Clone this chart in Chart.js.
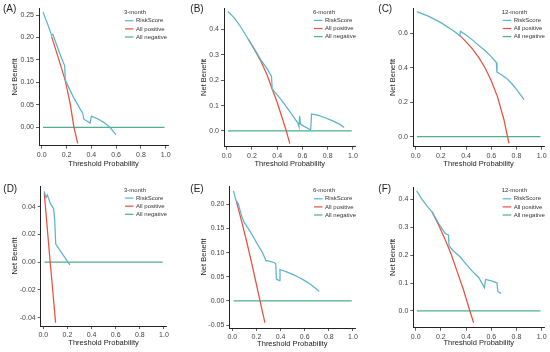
<!DOCTYPE html>
<html>
<head>
<meta charset="utf-8">
<script src="https://cdn.jsdelivr.net/npm/chart.js@4.4.1/dist/chart.umd.min.js"></script>
<style>
  body { margin: 0; background: #fff; }
  #wrap { position: relative; width: 550px; height: 352px; overflow: hidden; background: #fff; }
  #wrap canvas { position: absolute; }
</style>
</head>
<body>
<div id="wrap">
  <canvas id="cA" width="185" height="176" style="left:0;top:0"></canvas>
  <canvas id="cB" width="185" height="176" style="left:183px;top:0"></canvas>
  <canvas id="cC" width="185" height="176" style="left:365px;top:0"></canvas>
  <canvas id="cD" width="185" height="176" style="left:0;top:176px"></canvas>
  <canvas id="cE" width="185" height="176" style="left:183px;top:176px"></canvas>
  <canvas id="cF" width="185" height="176" style="left:365px;top:176px"></canvas>
</div>
<script>
// Data: [threshold, net benefit]

const xTicks = [0, 0.2, 0.4, 0.6, 0.8, 1.0];

// (A) 3-month
const riskA = [[0.01,0.257],[0.05,0.228],[0.08,0.204],[0.09,0.207],[0.13,0.176],[0.175,0.143],[0.185,0.138],[0.19,0.105],[0.25,0.07],[0.32,0.036],[0.33,0.032],[0.34,0.018],[0.37,0.013],[0.39,0.009],[0.40,0.025],[0.45,0.019],[0.50,0.011],[0.55,0.0],[0.60,-0.017]];
const posA = [[0.08,0.202],[0.13,0.158],[0.19,0.104],[0.23,0.052],[0.26,0.0],[0.29,-0.036]];
const negA = [[0.01,0],[0.99,0]];
const yTicksA = [0, 0.05, 0.10, 0.15, 0.20, 0.25];

// (B) 6-month
const riskB = [[0.01,0.47],[0.06,0.445],[0.11,0.41],[0.17,0.362],[0.22,0.322],[0.27,0.28],[0.32,0.245],[0.355,0.215],[0.36,0.165],[0.42,0.13],[0.47,0.097],[0.52,0.062],[0.565,0.03],[0.572,0.018],[0.578,0.06],[0.583,0.028],[0.60,0.022],[0.665,0.004],[0.672,0.067],[0.72,0.062],[0.78,0.052],[0.84,0.04],[0.90,0.025],[0.93,0.014]];
const posB = [[0.17,0.362],[0.22,0.32],[0.27,0.275],[0.32,0.22],[0.36,0.165],[0.40,0.112],[0.44,0.05],[0.47,0.003],[0.50,-0.05]];
const negB = [[0.01,0],[0.99,0]];
const yTicksB = [0, 0.1, 0.2, 0.3, 0.4];

// (C) 12-month
const riskC = [[0.01,0.726],[0.1,0.70],[0.2,0.662],[0.3,0.615],[0.35,0.586],[0.355,0.612],[0.40,0.59],[0.45,0.562],[0.50,0.53],[0.55,0.50],[0.60,0.465],[0.64,0.43],[0.645,0.375],[0.68,0.36],[0.72,0.34],[0.76,0.31],[0.80,0.275],[0.83,0.245],[0.86,0.215]];
const posC = [[0.35,0.588],[0.40,0.55],[0.45,0.51],[0.50,0.46],[0.55,0.40],[0.60,0.325],[0.65,0.23],[0.70,0.10],[0.74,-0.038]];
const negC = [[0.01,0],[0.99,0]];
const yTicksC = [0, 0.2, 0.4, 0.6];

// (D) 3-month
const riskD = [[0.008,0.051],[0.022,0.0465],[0.033,0.0485],[0.06,0.042],[0.085,0.0385],[0.094,0.031],[0.103,0.013],[0.22,-0.002]];
const posD = [[0.008,0.0499],[0.03,0.0275],[0.055,0.002],[0.08,-0.022],[0.102,-0.0437]];
const negD = [[0.01,0],[0.99,0]];
const yTicksD = [-0.04, -0.02, 0, 0.02, 0.04];

// (E) 6-month
const riskE = [[0.01,0.228],[0.03,0.208],[0.04,0.205],[0.05,0.2],[0.08,0.174],[0.10,0.162],[0.15,0.143],[0.20,0.121],[0.25,0.1],[0.28,0.083],[0.29,0.0835],[0.35,0.079],[0.36,0.077],[0.365,0.045],[0.39,0.042],[0.395,0.065],[0.45,0.06],[0.50,0.055],[0.55,0.049],[0.60,0.042],[0.65,0.034],[0.72,0.02]];
const posE = [[0.035,0.205],[0.08,0.162],[0.12,0.122],[0.16,0.079],[0.20,0.034],[0.23,0.0],[0.27,-0.045]];
const negE = [[0.01,0],[0.99,0]];
const yTicksE = [-0.05, 0, 0.05, 0.10, 0.15, 0.20];

// (F) 12-month
const riskF = [[0.008,0.43],[0.05,0.4],[0.1,0.37],[0.13,0.355],[0.18,0.315],[0.23,0.28],[0.245,0.275],[0.26,0.272],[0.265,0.233],[0.3,0.215],[0.35,0.195],[0.4,0.168],[0.45,0.142],[0.5,0.12],[0.545,0.084],[0.555,0.113],[0.6,0.108],[0.645,0.101],[0.652,0.07],[0.677,0.063]];
const posF = [[0.13,0.355],[0.18,0.31],[0.23,0.26],[0.28,0.205],[0.33,0.14],[0.38,0.075],[0.43,0.0],[0.46,-0.042]];
const negF = [[0.01,0],[0.99,0]];
const yTicksF = [0, 0.1, 0.2, 0.3, 0.4];

const seriesNames = ['RiskScore', 'All positive', 'All negative'];
const colors = ['#5BB4C9', '#E8503F', '#4FAE92'];
const FONT = '"Liberation Sans", Arial, sans-serif';

const panels = [
  { id: 'cA', tag: '(A)', title: '3-month', series: [riskA, posA, negA], yTicks: yTicksA, dec: 2 },
  { id: 'cB', tag: '(B)', title: '6-month', series: [riskB, posB, negB], yTicks: yTicksB, dec: 1 },
  { id: 'cC', tag: '(C)', title: '12-month', series: [riskC, posC, negC], yTicks: yTicksC, dec: 1 },
  { id: 'cD', tag: '(D)', title: '3-month', series: [riskD, posD, negD], yTicks: yTicksD, dec: 2 },
  { id: 'cE', tag: '(E)', title: '6-month', series: [riskE, posE, negE], yTicks: yTicksE, dec: 2 },
  { id: 'cF', tag: '(F)', title: '12-month', series: [riskF, posF, negF], yTicks: yTicksF, dec: 1 },
];

// Layout per panel (pixels inside each 185x176 canvas)
const layouts = [
  { l: 39,   t: 8,    r: 168.2, b: 145.7, x: [-0.022, 1.02],  y: [-0.041, 0.2656], yt: 15,   xt: 164.3, tag: [3, 9.3],    leg: [124, 12.7] },
  { l: 41,   t: 8,    r: 172.5, b: 146.7, x: [-0.0214, 1.02], y: [-0.0618, 0.4838], yt: 20.7, xt: 164.3, tag: [7.3, 9.3],  leg: [130, 12.3] },
  { l: 48,   t: 8.3,  r: 179.2, b: 146.7, x: [-0.0214, 1.02], y: [-0.058, 0.7452], yt: 28.3, xt: 164.3, tag: [13.3, 9],   leg: [136.7, 12.3] },
  { l: 40.7, t: 10,   r: 166.4, b: 150,   x: [-0.0215, 1.02], y: [-0.046, 0.0549], yt: 15,   xt: 167.3, tag: [3.3, 13],   leg: [124, 14] },
  { l: 46.3, t: 10,   r: 172.4, b: 152,   x: [-0.0249, 1.02], y: [-0.0561, 0.238], yt: 20.7, xt: 167.7, tag: [7.3, 13.3], leg: [130, 14.7] },
  { l: 48.3, t: 11,   r: 179.2, b: 151.7, x: [-0.019, 1.02],  y: [-0.0598, 0.444], yt: 28.3, xt: 166.7, tag: [13.3, 13.3], leg: [136.7, 14.7] },
];

// panel tag + legend
const deco = {
  id: 'deco',
  afterDraw(chart, args, o) {
    const ctx = chart.ctx;
    ctx.save();
    ctx.textBaseline = 'middle';
    ctx.textAlign = 'left';
    ctx.fillStyle = '#222';
    ctx.font = '10px ' + FONT;
    ctx.fillText(o.tag, o.tagAt[0], o.tagAt[1]);

    const [lx, ly] = o.legAt;
    ctx.font = '6px ' + FONT;
    ctx.fillStyle = '#333';
    ctx.fillText(o.title, lx, ly);
    chart.data.datasets.forEach((ds, i) => {
      const y = ly + 8.1 * (i + 1);
      ctx.strokeStyle = ds.borderColor;
      ctx.lineWidth = 1.2;
      ctx.beginPath();
      ctx.moveTo(lx + 1, y);
      ctx.lineTo(lx + 9.5, y);
      ctx.stroke();
      ctx.fillText(ds.label, lx + 12, y);
    });
    ctx.restore();
  }
};

panels.forEach((p, k) => {
  const lay = layouts[k];
  const W = 185, H = 176;
  new Chart(document.getElementById(p.id), {
    type: 'line',
    data: {
      datasets: p.series.map((s, i) => ({
        label: seriesNames[i],
        data: s.map(([x, y]) => ({ x, y })),
        borderColor: colors[i],
        backgroundColor: colors[i],
        borderWidth: 1.25,
        pointRadius: 0,
        tension: 0,
        fill: false
      }))
    },
    options: {
      responsive: false,
      animation: false,
      devicePixelRatio: 1,
      layout: { padding: { top: lay.t, right: W - lay.r, left: 0, bottom: 0 } },
      plugins: {
        legend: { display: false },
        tooltip: { enabled: false },
        deco: { tag: p.tag, title: p.title, tagAt: lay.tag, legAt: lay.leg }
      },
      scales: {
        x: {
          type: 'linear',
          min: lay.x[0],
          max: lay.x[1],
          afterBuildTicks: s => { s.ticks = xTicks.map(v => ({ value: v })); },
          afterFit: s => { s.height = H - lay.b; },
          ticks: {
            callback: v => v.toFixed(1),
            font: { size: 7, family: FONT },
            color: '#444',
            padding: 2,
            maxRotation: 0,
            autoSkip: false
          },
          grid: { drawOnChartArea: false, tickLength: 3, color: '#333', lineWidth: 0.8 },
          border: { display: true, color: '#222', width: 1 },
          title: {
            display: true,
            text: 'Threshold Probability',
            color: '#222',
            font: { size: 7.5, family: FONT },
            padding: { top: 0, bottom: H - lay.xt - 4.5 }
          }
        },
        y: {
          type: 'linear',
          min: lay.y[0],
          max: lay.y[1],
          afterBuildTicks: s => { s.ticks = p.yTicks.map(v => ({ value: v })); },
          afterFit: s => { s.width = lay.l; },
          ticks: {
            callback: v => v.toFixed(p.dec),
            font: { size: 7, family: FONT },
            color: '#444',
            padding: 2,
            autoSkip: false
          },
          grid: { drawOnChartArea: false, tickLength: 3, color: '#333', lineWidth: 0.8 },
          border: { display: true, color: '#222', width: 1 },
          title: {
            display: true,
            text: 'Net Benefit',
            color: '#222',
            font: { size: 7.5, family: FONT },
            padding: { top: lay.yt - 4.5, bottom: 0 }
          }
        }
      }
    },
    plugins: [deco]
  });
});
</script>
</body>
</html>
